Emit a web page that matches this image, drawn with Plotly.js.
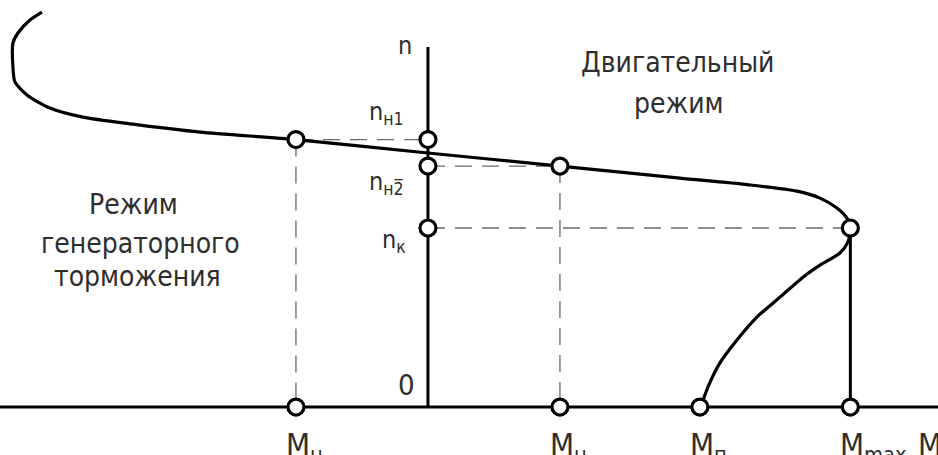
<!DOCTYPE html>
<html>
<head>
<meta charset="utf-8">
<script src="https://cdn.plot.ly/plotly-3.0.1.min.js"></script>
<style>html,body{margin:0;padding:0;background:#fff;}#chart{width:938px;height:455px;}</style>
</head>
<body>
<div id="chart"></div>
<script>
// Key values (M in units of nominal torque, n in units of n_H2)
const M_gen = -1.0;     // M_н (generator braking)
const M_nom = 1.0;      // M_н (motor)
const M_start = 2.06;   // M_п
const M_max = 3.2;      // M_max
const n_H1 = 1.11;
const n_H2 = 1.0;
const n_K = 0.743;
const n_axisTop = 1.494;

// Mechanical characteristic n(M)
const curveM = [-2.924, -3.015, -3.106, -3.144, -3.144, -3.129, -3.038, -2.864, -2.614, -2.235, -1.727, -1.0,
                0, 1.0, 1.909, 2.417, 2.795, 2.970, 3.098, 3.174, 3.2,
                3.182, 3.121, 2.970, 2.841, 2.667, 2.492, 2.341, 2.212, 2.121, 2.076, 2.06];
const curveN = [1.639, 1.606, 1.552, 1.510, 1.411, 1.349, 1.295, 1.241, 1.203, 1.174, 1.141, 1.11,
                1.054, 1.0, 0.950, 0.923, 0.896, 0.867, 0.826, 0.784, 0.743,
                0.685, 0.639, 0.589, 0.539, 0.456, 0.373, 0.278, 0.183, 0.083, 0.017, 0];

// Marked points
const pointM = [M_gen, 0, 0, M_nom, 0, M_max, M_gen, M_nom, M_start, M_max];
const pointN = [n_H1, n_H1, n_H2, n_H2, n_K, n_K, 0, 0, 0, 0];

// Tick labels
const nLabels = ["n", "n<sub>н1</sub>", "n<sub>н2̅</sub>", "n<sub>к</sub>"];
const mLabels = ["M<sub>н</sub>", "M<sub>н</sub>", "M<sub>п</sub>", "M<sub>max</sub>", "M"];
const zeroLabel = "0";
const regionMotor = ["Двигательный", "режим"];
const regionGen = ["Режим", "генераторного", "торможения"];

const FONT = "'DejaVu Sans Condensed', 'Liberation Sans Narrow', 'DejaVu Sans', sans-serif";
const ink = "#000";
const txt = "#2e2e2e";

const traces = [
  // dashed projection lines
  {x: [M_gen, 0, null, M_gen, M_gen, null, 0, M_nom, null, M_nom, M_nom, null, 0, M_max],
   y: [n_H1, n_H1, null, n_H1, 0, null, n_H2, n_H2, null, n_H2, 0, null, n_K, n_K],
   mode: "lines", line: {color: "#6a6a6a", width: 1.3, dash: "17px,10px"}},
  // axes
  {x: [-3.4, 4.0], y: [0, 0], mode: "lines", line: {color: ink, width: 3}},
  {x: [0, 0], y: [0, n_axisTop], mode: "lines", line: {color: ink, width: 3}},
  // vertical at M_max
  {x: [M_max, M_max], y: [0, n_K], mode: "lines", line: {color: ink, width: 3}},
  // characteristic
  {x: curveM, y: curveN, mode: "lines", line: {color: ink, width: 3.2, shape: "spline", smoothing: 0.7}},
  // circles
  {x: pointM, y: pointN, mode: "markers",
   marker: {symbol: "circle", size: 16, color: "#fff", line: {color: ink, width: 3.2}}}
];

function ann(text, x, y, size, xa, ya) {
  return {text: text, x: x, y: y, xref: "x", yref: "y", showarrow: false,
          xanchor: xa || "center", yanchor: ya || "middle",
          font: {family: FONT, size: size, color: txt}};
}

const annotations = [
  ann(nLabels[0], -0.174, 1.50, 25, "center"),
  ann(nLabels[1], -0.17, 1.22, 25, "right"),
  ann(nLabels[2], -0.17, 0.93, 25, "right"),
  ann(nLabels[3], -0.15, 0.69, 25, "right"),
  ann(zeroLabel, -0.159, 0.09, 29, "center"),
  ann(mLabels[0], M_gen - 0.09, -0.07, 31, "left", "top"),
  ann(mLabels[1], M_nom - 0.09, -0.07, 31, "left", "top"),
  ann(mLabels[2], M_start - 0.09, -0.07, 31, "left", "top"),
  ann(mLabels[3], M_max - 0.09, -0.07, 31, "left", "top"),
  ann(mLabels[4], 3.70, -0.07, 31, "left", "top"),
  ann(regionMotor[0], 1.89, 1.43, 28),
  ann(regionMotor[1], 1.90, 1.26, 28),
  ann(regionGen[0], -2.23, 0.84, 28),
  ann(regionGen[1], -2.18, 0.68, 28),
  ann(regionGen[2], -2.20, 0.54, 28)
];

const layout = {
  width: 938, height: 455,
  margin: {l: 0, r: 0, t: 0, b: 0, pad: 0},
  paper_bgcolor: "#fff", plot_bgcolor: "#fff",
  showlegend: false, hovermode: false,
  xaxis: {visible: false, range: [-3.242, 3.864], fixedrange: true},
  yaxis: {visible: false, range: [-0.199, 1.689], fixedrange: true},
  annotations: annotations
};

Plotly.newPlot("chart", traces, layout, {staticPlot: true, displayModeBar: false});
</script>
</body>
</html>
